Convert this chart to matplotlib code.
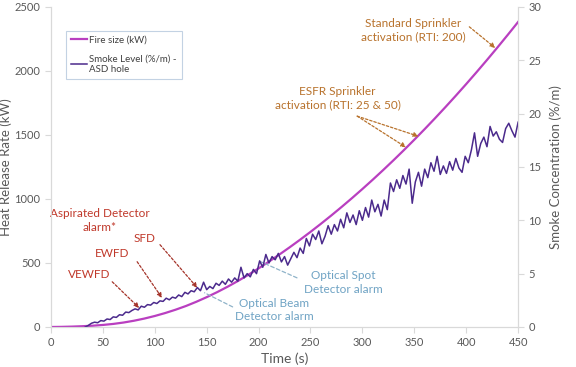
import numpy as np
import matplotlib
matplotlib.use("Agg")
import matplotlib.pyplot as plt

plt.rcParams['font.family'] = ['Lato', 'DejaVu Sans']

# ---- data ----
fire_time = list(range(0, 451, 10))
fire_kw = [0, 1, 3, 6, 10, 16, 24, 35, 49, 66,
           86, 109, 135, 164, 197, 233, 272, 314, 359, 407,
           458, 511, 566, 623, 682, 743, 806, 871, 938, 1007,
           1078, 1151, 1226, 1303, 1382, 1463, 1546, 1631, 1718, 1807,
           1898, 1991, 2086, 2183, 2282, 2383]

smoke_time = list(range(33, 451, 3))
smoke_pct = [
    0.0, 0.15, 0.35, 0.45, 0.4, 0.6, 0.55, 0.75, 0.7, 0.95,
    0.9, 1.15, 1.1, 1.4, 1.35, 1.55, 1.7, 1.6, 1.95, 1.85,
    2.1, 2.05, 2.3, 2.2, 2.45, 2.4, 2.7, 2.55, 2.8, 2.7,
    3.0, 2.85, 3.25, 3.1, 3.4, 3.3, 3.7, 3.4, 4.2, 3.5,
    3.8, 3.6, 4.1, 3.9, 4.3, 4.0, 4.5, 4.2, 4.6, 4.3,
    5.6, 4.6, 5.0, 4.7, 5.4, 5.0, 6.2, 5.6, 6.8, 6.0,
    6.6, 6.3, 6.9, 6.1, 6.6, 5.8, 6.4, 7.0, 6.5, 7.4,
    6.9, 8.3, 7.6, 8.7, 8.2, 9.0, 7.8, 8.5, 9.5, 8.7,
    9.6, 9.0, 10.1, 9.3, 10.7, 9.8, 10.5, 9.6, 10.9, 10.0,
    11.2, 10.3, 11.9, 10.8, 11.5, 10.4, 11.9, 11.0, 13.5, 12.7,
    13.8, 13.0, 14.2, 13.4, 14.8, 11.6, 13.6, 14.5, 13.2, 14.8,
    14.0, 15.4, 14.6, 16.0, 14.3, 15.1, 14.4, 15.5, 14.7, 15.8,
    14.9, 14.5, 16.0, 15.4, 16.6, 18.2, 16.0, 17.2, 17.8, 16.9,
    18.8, 17.9, 18.3, 17.6, 17.3, 18.6, 19.1, 18.4, 17.8, 19.2,
]
smoke_time = smoke_time[:len(smoke_pct)]

x_ticks = [0, 50, 100, 150, 200, 250, 300, 350, 400, 450]
left_ticks = [0, 500, 1000, 1500, 2000, 2500]
right_ticks = [0, 5, 10, 15, 20, 25, 30]

# ---- styling ----
fire_color = '#b93fc0'
smoke_color = '#4b2a8c'
red_txt = '#c0392b'
arrow_red = '#a5342a'
blue_txt = '#6fa3c4'
orange_txt = '#b8722c'
axis_gray = '#d9d9d9'
tick_txt = '#595959'

fig = plt.figure(figsize=(5.76, 3.67), dpi=100)
ax = fig.add_axes([0.0885, 0.109, 0.811, 0.872])
ax2 = ax.twinx()

l1, = ax.plot(fire_time, fire_kw, color=fire_color, lw=1.6, label='Fire size (kW)', zorder=3)
l2, = ax2.plot(smoke_time, smoke_pct, color=smoke_color, lw=1.1,
               label='Smoke Level (%/m) -\nASD hole', zorder=2)

ax.set_xlim(0, 450)
ax.set_ylim(0, 2500)
ax2.set_ylim(0, 30)
ax.set_xticks(x_ticks)
ax.set_yticks(left_ticks)
ax2.set_yticks(right_ticks)

for a in (ax, ax2):
    for s in a.spines.values():
        s.set_color(axis_gray)
    a.spines['top'].set_visible(False)
    a.tick_params(colors=axis_gray, labelcolor=tick_txt, labelsize=8, length=4, width=0.8)

ax.set_xlabel('Time (s)', fontsize=10, color=tick_txt, labelpad=3)
ax.set_ylabel('Heat Release Rate (kW)', fontsize=9.5, color=tick_txt, labelpad=2)
ax2.set_ylabel('Smoke Concentration (%/m)', fontsize=9.5, color=tick_txt, labelpad=6)

leg = ax.legend(handles=[l1, l2], loc='upper left', bbox_to_anchor=(0.022, 0.94),
                fontsize=7, frameon=True, fancybox=False, handlelength=1.6,
                handletextpad=0.3, labelspacing=1.0, borderpad=0.5)
leg.get_frame().set_edgecolor('#b4c7dc')
leg.get_frame().set_linewidth(0.8)
for t in leg.get_texts():
    t.set_color('#404040')

# ---- annotations ----
def dashed_arrow(color, head=True):
    return dict(arrowstyle='-|>' if head else '-', color=color, lw=0.9,
                ls=(0, (2, 1.5)), mutation_scale=7, shrinkA=0, shrinkB=0)

fs = 8.5
ax.text(47, 831, 'Aspirated Detector\nalarm*', color=red_txt, fontsize=fs,
        ha='center', va='center', linespacing=1.25)
ax.text(90, 690, 'SFD', color=red_txt, fontsize=fs, ha='center', va='center')
ax.annotate('', xy=(141, 306), xytext=(105, 643), arrowprops=dashed_arrow(arrow_red))
ax.text(59, 573, 'EWFD', color=red_txt, fontsize=fs, ha='center', va='center')
ax.annotate('', xy=(107, 227), xytext=(83, 510), arrowprops=dashed_arrow(arrow_red))
ax.text(37, 408, 'VEWFD', color=red_txt, fontsize=fs, ha='center', va='center')
ax.annotate('', xy=(85, 149), xytext=(59, 353), arrowprops=dashed_arrow(arrow_red))

blue_line = dict(arrowstyle='-', color='#8fb3c9', lw=0.9, ls=(0, (3, 2)),
                 shrinkA=0, shrinkB=0)
ax.text(215, 133, 'Optical Beam\nDetector alarm', color=blue_txt, fontsize=fs,
        ha='center', va='center', linespacing=1.3)
ax.annotate('', xy=(148, 267), xytext=(175, 157), arrowprops=blue_line)
ax.text(282, 345, 'Optical Spot\nDetector alarm', color=blue_txt, fontsize=fs,
        ha='center', va='center', linespacing=1.3)
ax.annotate('', xy=(202, 510), xytext=(237, 384), arrowprops=blue_line)

ax.text(349, 2318, 'Standard Sprinkler\nactivation (RTI: 200)', color=orange_txt,
        fontsize=fs, ha='center', va='center', linespacing=1.3)
ax.annotate('', xy=(428, 2180), xytext=(403, 2345), arrowprops=dashed_arrow(orange_txt))
ax.text(276, 1788, 'ESFR Sprinkler\nactivation (RTI: 25 & 50)', color=orange_txt,
        fontsize=fs, ha='center', va='center', linespacing=1.3)
ax.annotate('', xy=(354, 1490), xytext=(295, 1647), arrowprops=dashed_arrow(orange_txt))
ax.annotate('', xy=(342, 1404), xytext=(295, 1647), arrowprops=dashed_arrow(orange_txt))

fig.savefig('out.png', dpi=100)
